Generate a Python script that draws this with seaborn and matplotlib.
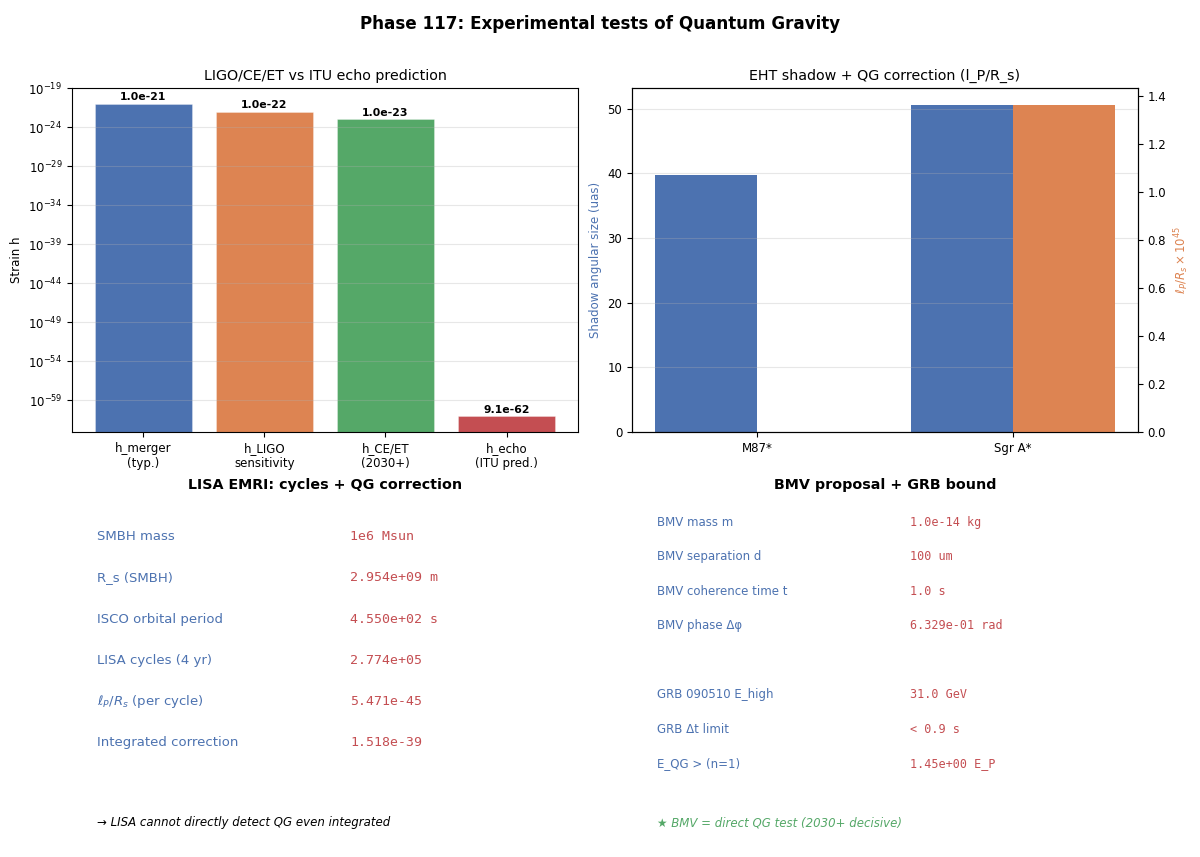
import numpy as np
import pandas as pd
import matplotlib
matplotlib.use("Agg")
import matplotlib.pyplot as plt
import seaborn as sns

# ---------------- data ----------------
strain_labels = ["h_merger\n(typ.)", "h_LIGO\nsensitivity", "h_CE/ET\n(2030+)", "h_echo\n(ITU pred.)"]
strain_values = [1.0e-21, 1.0e-22, 1.0e-23, 9.1e-62]

bh_names = ["M87*", "Sgr A*"]
shadow_uas = [39.7, 50.6]
lp_rs_e45 = [0.00084, 1.366]

lisa_labels = ["SMBH mass", "R_s (SMBH)", "ISCO orbital period", "LISA cycles (4 yr)",
               r"$\ell_P/R_s$ (per cycle)", "Integrated correction"]
lisa_values = ["1e6 Msun", "2.954e+09 m", "4.550e+02 s", "2.774e+05", "5.471e-45", "1.518e-39"]
lisa_note = "\u2192 LISA cannot directly detect QG even integrated"

bmv_labels = ["BMV mass m", "BMV separation d", "BMV coherence time t", "BMV phase \u0394\u03c6", "",
              "GRB 090510 E_high", "GRB \u0394t limit", "E_QG > (n=1)"]
bmv_values = ["1.0e-14 kg", "100 um", "1.0 s", "6.329e-01 rad", "",
              "31.0 GeV", "< 0.9 s", "1.45e+00 E_P"]
bmv_note = "\u2605 BMV = direct QG test (2030+ decisive)"

# ---------------- style ----------------
deep = sns.color_palette("deep")
BLUE, ORANGE, GREEN, RED = deep[0], deep[1], deep[2], deep[3]
plt.rcParams['font.family'] = ['DejaVu Sans']
plt.rcParams['xtick.labelsize'] = 8.5
plt.rcParams['ytick.labelsize'] = 8.5

fig = plt.figure(figsize=(12, 8.57), dpi=100)
gs = fig.add_gridspec(2, 2, left=0.06, right=0.9483, top=0.897, bottom=0.019,
                      hspace=0.19, wspace=0.107)
ax1 = fig.add_subplot(gs[0, 0])
ax2 = fig.add_subplot(gs[0, 1])
ax3 = fig.add_subplot(gs[1, 0])
ax4 = fig.add_subplot(gs[1, 1])

fig.suptitle("Phase 117: Experimental tests of Quantum Gravity", fontsize=12.1,
             fontweight='bold', y=0.983)

# ---- panel 1: strain bars (log) ----
df1 = pd.DataFrame({"label": strain_labels, "h": strain_values})
ax1.set_yscale('log')
sns.barplot(data=df1, x="label", y="h", hue="label", palette=[BLUE, ORANGE, GREEN, RED],
            legend=False, errorbar=None, ax=ax1, width=0.8, saturation=1,
            edgecolor=(1, 1, 1, 0.35), linewidth=0.6)
ax1.set_ylim(min(strain_values) / 100, max(strain_values) * 100)
ax1.set_yticks(10.0 ** np.arange(-19, -60, -5))
ax1.minorticks_off()
ax1.set_autoscalex_on(True)
ax1.margins(x=0.05)
ax1.autoscale_view(scaley=False)
for cont in ax1.containers:
    ax1.bar_label(cont, labels=[f"{b.get_height():.1e}" for b in cont],
                  fontsize=7.8, fontweight='bold', padding=1)
ax1.set_xlabel("")
ax1.set_ylabel("Strain h", fontsize=8.5)
ax1.set_title("LIGO/CE/ET vs ITU echo prediction", fontsize=10.3)
ax1.grid(axis='y', alpha=0.3)

# ---- panel 2: EHT shadow + twin ----
x = np.arange(len(bh_names))
sns.barplot(x=x - 0.2, y=shadow_uas, native_scale=True, width=0.4, color=BLUE, saturation=1,
            errorbar=None, ax=ax2, linewidth=0)
ax2r = ax2.twinx()
sns.barplot(x=x + 0.2, y=lp_rs_e45, native_scale=True, width=0.4, color=ORANGE, saturation=1,
            errorbar=None, ax=ax2r, linewidth=0)
ax2.set_xticks(x)
ax2.set_xticklabels(bh_names)
ax2.set_xlabel("")
ax2.set_ylabel("Shadow angular size (uas)", color=BLUE, fontsize=8.5)
ax2r.set_ylabel(r"$\ell_P/R_s \times 10^{45}$", color=ORANGE, fontsize=8.5)
ax2.set_title("EHT shadow + QG correction (l_P/R_s)", fontsize=10.3)
ax2.grid(axis='y', alpha=0.3)

# ---- panel 3: LISA text ----
ax3.axis('off')
ax3.set_title("LISA EMRI: cycles + QG correction", fontsize=10.3, fontweight='bold')
for i, (lab, val) in enumerate(zip(lisa_labels, lisa_values)):
    yy = 0.885 - 0.12 * i
    ax3.text(0.05, yy, lab, transform=ax3.transAxes, fontsize=9.5, color=BLUE, va='center')
    ax3.text(0.55, yy, val, transform=ax3.transAxes, fontsize=9.5, color=RED, va='center',
             family='DejaVu Sans Mono')
ax3.text(0.05, 0.052, lisa_note, transform=ax3.transAxes, fontsize=8.5, style='italic',
         va='center', color='black')

# ---- panel 4: BMV text ----
ax4.axis('off')
ax4.set_title("BMV proposal + GRB bound", fontsize=10.3, fontweight='bold')
for i, (lab, val) in enumerate(zip(bmv_labels, bmv_values)):
    if not lab:
        continue
    yy = 0.927 - 0.1005 * i
    ax4.text(0.05, yy, lab, transform=ax4.transAxes, fontsize=8.5, color=BLUE, va='center')
    ax4.text(0.55, yy, val, transform=ax4.transAxes, fontsize=8.5, color=RED, va='center',
             family='DejaVu Sans Mono')
ax4.text(0.05, 0.052, bmv_note, transform=ax4.transAxes, fontsize=8.5, style='italic',
         va='center', color=GREEN)

fig.savefig("out.png", dpi=100)
